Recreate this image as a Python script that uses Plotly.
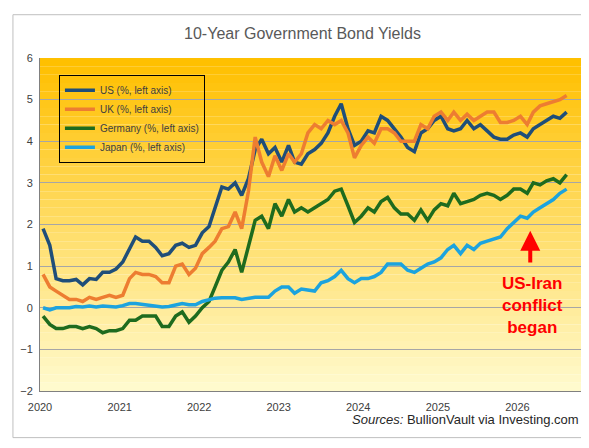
import plotly.graph_objects as go
import pandas as pd

months = pd.date_range("2020-01-01", periods=80, freq="MS") + pd.Timedelta(days=14)

us = [1.9,1.5,0.7,0.65,0.65,0.68,0.55,0.7,0.68,0.85,0.85,0.93,
      1.1,1.4,1.7,1.6,1.6,1.45,1.25,1.3,1.5,1.55,1.45,1.5,
      1.8,1.95,2.4,2.9,2.85,3.0,2.7,3.1,3.8,4.05,3.7,3.85,
      3.5,3.9,3.5,3.45,3.7,3.8,3.95,4.2,4.6,4.9,4.3,3.9,
      4.0,4.25,4.2,4.6,4.5,4.3,4.1,3.85,3.75,4.2,4.3,4.5,
      4.6,4.3,4.25,4.3,4.5,4.3,4.4,4.25,4.1,4.05,4.05,4.15,
      4.2,4.1,4.3,4.4,4.5,4.6,4.55,4.7]
uk = [0.8,0.5,0.4,0.3,0.2,0.2,0.15,0.25,0.2,0.25,0.3,0.25,
      0.3,0.7,0.85,0.8,0.8,0.75,0.6,0.6,1.0,1.05,0.8,0.95,
      1.3,1.45,1.6,1.9,1.95,2.3,1.9,2.8,4.1,3.5,3.15,3.65,
      3.3,3.7,3.5,3.7,4.2,4.4,4.3,4.5,4.4,4.5,4.2,3.6,
      3.9,4.1,3.95,4.3,4.3,4.2,4.0,4.0,4.0,4.4,4.3,4.6,
      4.7,4.5,4.7,4.5,4.65,4.5,4.6,4.7,4.7,4.45,4.45,4.5,
      4.6,4.4,4.7,4.85,4.9,4.95,5.0,5.1]
de = [-0.2,-0.4,-0.5,-0.5,-0.45,-0.45,-0.5,-0.45,-0.5,-0.6,-0.55,-0.55,
      -0.5,-0.3,-0.3,-0.2,-0.2,-0.2,-0.45,-0.45,-0.2,-0.1,-0.35,-0.2,
      0.0,0.15,0.5,0.9,1.1,1.4,0.85,1.5,2.1,2.2,1.9,2.5,
      2.2,2.6,2.3,2.4,2.3,2.4,2.5,2.6,2.8,2.85,2.45,2.05,
      2.2,2.4,2.3,2.55,2.65,2.4,2.25,2.25,2.1,2.35,2.1,2.35,
      2.5,2.45,2.75,2.5,2.55,2.6,2.7,2.75,2.7,2.6,2.7,2.85,
      2.85,2.75,3.0,2.95,3.05,3.1,3.0,3.2]
jp = [0.0,-0.05,0.0,0.0,0.0,0.03,0.02,0.04,0.02,0.04,0.02,0.02,
      0.05,0.1,0.1,0.08,0.08,0.05,0.02,0.03,0.07,0.1,0.07,0.07,
      0.15,0.2,0.23,0.24,0.24,0.24,0.2,0.23,0.25,0.25,0.25,0.4,
      0.5,0.5,0.35,0.45,0.42,0.4,0.6,0.65,0.75,0.9,0.7,0.6,
      0.7,0.7,0.75,0.85,1.05,1.05,1.05,0.9,0.85,0.95,1.05,1.1,
      1.2,1.4,1.5,1.3,1.5,1.4,1.55,1.6,1.65,1.7,1.9,2.05,
      2.2,2.15,2.3,2.4,2.5,2.6,2.75,2.85]

series = [("US (%, left axis)", us, "#1F4E79"),
          ("UK (%, left axis)", uk, "#ED7D31"),
          ("Germany (%, left axis)", de, "#1E6B1E"),
          ("Japan (%, left axis)", jp, "#1CA3DE")]

fig = go.Figure()
for name, vals, col in series:
    fig.add_trace(go.Scatter(x=months, y=vals, name=name, mode="lines",
                             line=dict(color=col, width=3.5)))

n = 40
shapes = []
for i in range(n):
    t = i / (n - 1)
    g = int(192 + (250 - 192) * t)
    b = int(0 + (205 - 0) * t)
    shapes.append(dict(type="rect", xref="x domain", yref="y domain",
                       x0=0, x1=1, y0=1 - (i + 1) / n, y1=1 - i / n,
                       fillcolor=f"rgb(255,{g},{b})", line_width=0, layer="below"))
shapes.append(dict(type="rect", xref="paper", yref="paper", x0=-0.05, x1=1.028,
                   y0=-0.14, y1=1.13, line=dict(color="#BFBFBF", width=1)))

fig.update_layout(
    width=589, height=448, margin=dict(l=30, r=16, t=50, b=65),
    paper_bgcolor="white", plot_bgcolor="rgba(0,0,0,0)",
    font=dict(family="Liberation Sans, Arial", size=11, color="#404040"),
    title=dict(text="10-Year Government Bond Yields", x=0.5, xanchor="center",
               y=0.955, font=dict(size=16, color="#595959")),
    shapes=shapes, showlegend=True,
    legend=dict(x=0.035, y=0.95, xanchor="left", yanchor="top",
                bgcolor="rgba(0,0,0,0)", bordercolor="black", borderwidth=1,
                font=dict(size=10, color="#404040"), tracegroupgap=0),
    xaxis=dict(range=["2020-01-01", "2026-10-20"], dtick="M12", tickformat="%Y",
               showgrid=False, showline=True, linecolor="#808080", ticks="",
               ticklabelstandoff=6, tickfont=dict(size=11)),
    yaxis=dict(range=[-2, 6], dtick=1, showgrid=True, gridcolor="#A6A6A6",
               gridwidth=1, zeroline=False, showline=True, linecolor="#808080",
               ticklabelstandoff=4, tickfont=dict(size=11)),
    annotations=[
        dict(x="2026-03-01", y=1.85, ax="2026-03-01", ay=1.05, xref="x", yref="y",
             axref="x", ayref="y", showarrow=True, arrowhead=2, arrowsize=1,
             arrowwidth=4, arrowcolor="#FF0000", text=""),
        dict(x="2026-03-10", y=0.05, xref="x", yref="y", showarrow=False,
             text="<b>US-Iran<br>conflict<br>began</b>", align="center",
             font=dict(size=17, color="#FF0000")),
        dict(x=1, y=-0.115, xref="paper", yref="paper", xanchor="right",
             showarrow=False, text="<i>Sources:</i> BullionVault via Investing.com",
             font=dict(size=13, color="#262626")),
    ],
)
fig.write_html("out.html")
